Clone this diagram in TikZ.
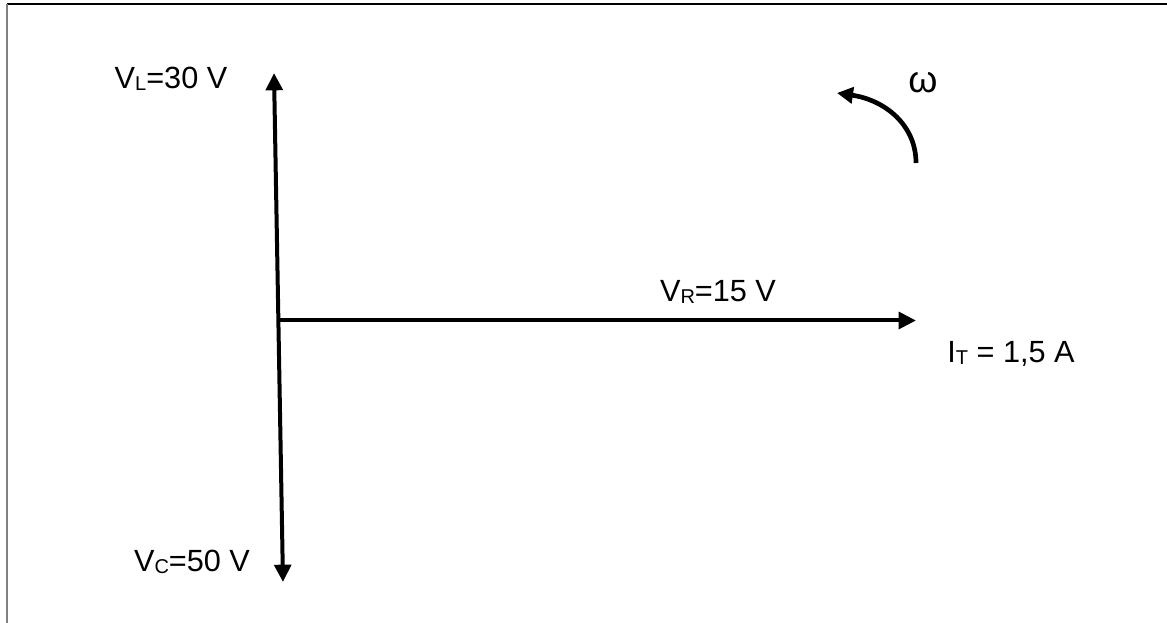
\documentclass[tikz,border=0pt]{standalone}
\usepackage{fontspec}
\setmainfont{Liberation Sans}
\usetikzlibrary{arrows.meta}
\newcommand\sbs[1]{\raisebox{-0.12ex}{\fontsize{15}{15}\selectfont #1}}
\begin{document}
\begin{tikzpicture}[x=0.75pt,y=-0.75pt,
  lbl/.style={inner sep=0pt, font=\fontsize{23}{27}\selectfont},
  vec/.style={line width=3pt, -{Triangle[length=13pt,width=12.5pt]}},
  dvec/.style={line width=3pt, {Triangle[length=13pt,width=12.5pt]}-{Triangle[length=13pt,width=12.5pt]}},
  rot/.style={line width=3.5pt, -{Triangle[length=12pt,width=12pt]}},
  frametop/.style={line width=1pt, black},
  frameleft/.style={line width=1pt, black!50}]
\useasboundingbox (0,0) rectangle (1167,623);
% frame
\coordinate (f0) at (7,4);
\coordinate (f1) at (1167,4);
\coordinate (f2) at (7,623);
\draw[frametop] (f0) -- (f1);
\draw[frameleft] (f0) -- (f2);
% vectors
\coordinate (tL) at (274,73);
\coordinate (tC) at (283,582);
\coordinate (O) at (278.4,320.5);
\coordinate (tR) at (916,320.5);
\draw[dvec] (tL) -- (tC);
\draw[vec] (O) -- (tR);
% rotation arrow
\coordinate (aS) at (916,163);
\coordinate (aE) at (837,93);
\draw[rot] (aS) .. controls (916,125) and (885,100) .. (aE);
% labels
\node[lbl] (vl) at (171,79) {V\sbs{L}=30 V};
\node[lbl] (vc) at (192,562) {V\sbs{C}=50 V};
\node[lbl] (vr) at (718,292) {V\sbs{R}=15 V};
\node[lbl] (it) at (1011,354) {I\sbs{T} = 1,5 A};
\node[inner sep=0pt, font=\fontsize{28}{30}\selectfont] (om) at (923,83) {ω};
\end{tikzpicture}
\end{document}
